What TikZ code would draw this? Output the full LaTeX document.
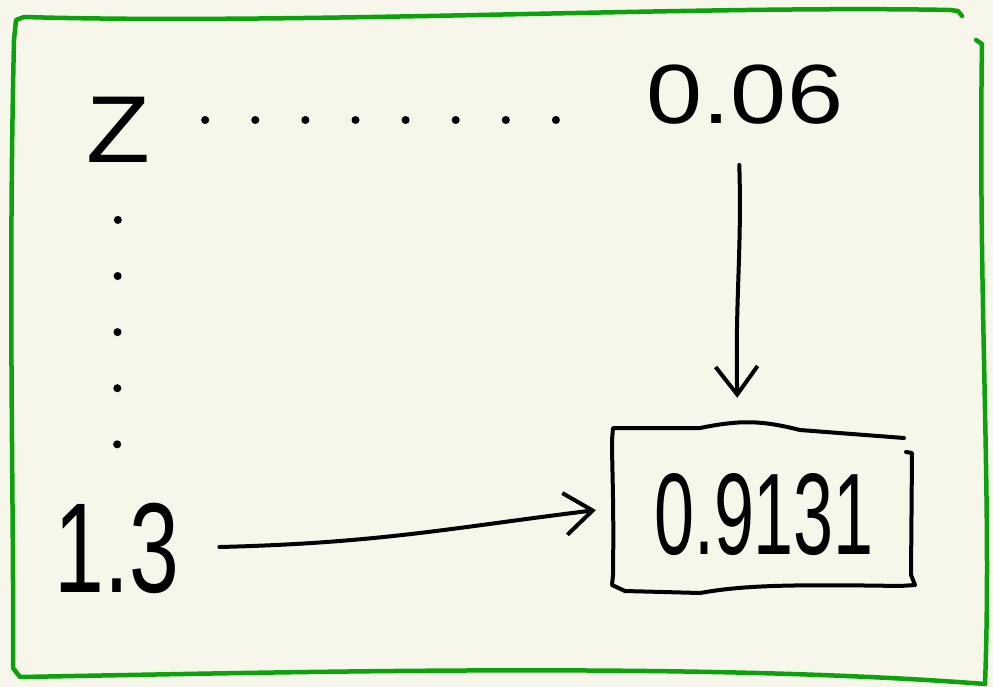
\documentclass[tikz,border=0pt]{standalone}
\usepackage{fontspec}
\setmainfont{Liberation Sans}
\usetikzlibrary{arrows.meta}
\definecolor{paper}{HTML}{F7F6EA}
\definecolor{frameg}{HTML}{0DA10D}
\tikzset{
  frame/.style={draw=frameg, line width=4.5pt, line cap=round, line join=round},
  ink/.style={draw=black, line width=4pt, line cap=round, line join=round},
  txt/.style={inner sep=0pt, text=black},
  arr/.style={ink, -{Straight Barb[length=28pt, width=42pt, line width=4pt]}},
  dotline/.style={draw=black, line width=8pt, line cap=round, dash pattern=on 0.1pt off 50pt},
  dotlinev/.style={draw=black, line width=8pt, line cap=round, dash pattern=on 0.1pt off 56pt},
}
\begin{document}
\begin{tikzpicture}[x=1pt, y=-1pt]
\fill[paper] (0,0) rectangle (993,687);
\useasboundingbox (0,0) rectangle (993,687);
% frame
\draw[frame] (14,40) -- (16,20) -- (24,17) .. controls (300,25) and (700,5) .. (950,10) -- (958,11) -- (962,16);
\draw[frame] (976,40) -- (982,44) .. controls (978,300) and (992,500) .. (985,684);
\draw[frame] (14,40) .. controls (8,300) and (14,500) .. (13,668) -- (20,677) .. controls (300,672) and (700,662) .. (985,684);
% text nodes
\node[txt, font=\fontsize{95}{95}\selectfont, xscale=1.1, transform shape] (Z) at (118,130) {Z};
\node[txt, font=\fontsize{84}{84}\selectfont, xscale=1.2, transform shape] (n006) at (745,95) {0.06};
\node[txt, font=\fontsize{128}{128}\selectfont, xscale=0.7, transform shape] (n13) at (117,548) {1.3};
\node[txt, font=\fontsize{116}{116}\selectfont, xscale=0.62, transform shape] (val) at (764,515) {0.9131};
% result box
\node[minimum width=300pt, minimum height=160pt, inner sep=0pt] (res) at (763,508) {};
\draw[ink] (612,440) -- (613,428) -- (700,428) .. controls (740,420) and (760,420) .. (800,430) -- (904,438);
\draw[ink] (906,452) -- (912,453) -- (911,575) -- (915,585) -- (900,586) .. controls (780,584) and (740,586) .. (700,593) -- (625,591) -- (612,585) -- (613,575) .. controls (614,500) and (612,470) .. (612,440);
% dotted connectors
\draw[dotline, shorten <=55pt, shorten >=87pt] ([yshift=10pt]Z.east) -- ([yshift=-25pt]n006.west);
\draw[dotlinev, shorten <=57pt, shorten >=55pt] (Z.south) -- (n13.north);
% arrows
\draw[arr, shorten <=40pt, shorten >=17pt] (n13.east) .. controls (380,543) and (450,528) .. (res.west);
\draw[arr, shorten <=40pt, shorten >=30pt] (n006.south -| 738,0) .. controls (742,250) and (735,300) .. (res.north -| 738,0);
\end{tikzpicture}
\end{document}
